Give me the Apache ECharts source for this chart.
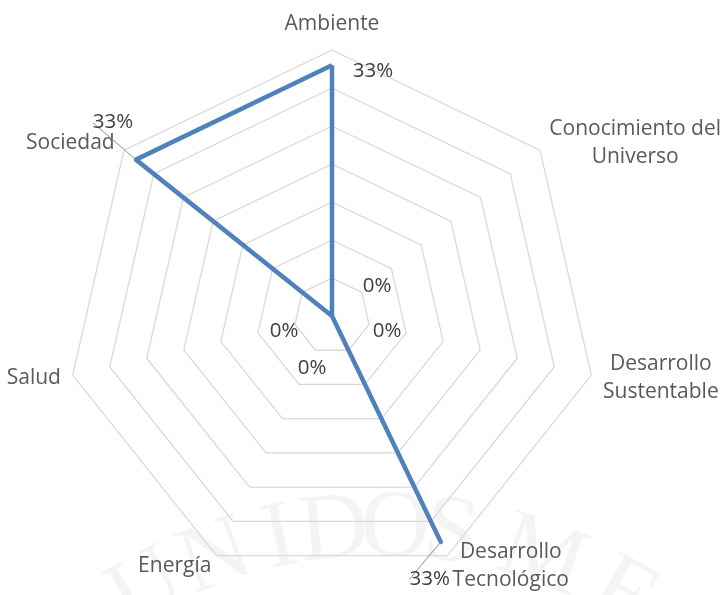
<!DOCTYPE html>
<html>
<head>
<meta charset="utf-8">
<script src="https://cdn.jsdelivr.net/npm/echarts@6/dist/echarts.min.js"></script>
<style>
    html, body {margin: 0; padding: 0; background: #fff;}
    #chart {width: 724px; height: 595px;}
</style>
</head>
<body>
<div id="chart"></div>
<script>
// echarts puts radar indicators counterclockwise from the top,
// so this is the excel (clockwise) order reversed after the first one
const indicators = ['Ambiente', 'Sociedad', 'Salud', 'Energía', 'Desarrollo\nTecnológico', 'Desarrollo\nSustentable', 'Conocimiento del\nUniverso'];
const values = [33, 33, 0, 0, 33, 0, 0];
const maxValue = 35;
const splitCount = 7;

// data labels were dragged around by hand in excel, offset from the point in px
const labelShift = [[41, 6], [-23, -37], [-48, 15], [-20, 52], [-11, 37], [55, 15], [45, -30]];
const leaderLine = [false, true, false, false, true, false, false];

const textColor = '#595959';
const font = 'Open Sans';

let chart = echarts.init(document.getElementById('chart'));

// one invisible series per vertex, only so every label can sit in its own place
let labelSeries = values.map((v, k) => ({
    type: 'radar',
    z: 3,
    silent: true,
    symbol: 'circle',
    symbolSize: 0,
    itemStyle: {color: 'transparent'},
    lineStyle: {width: 0, opacity: 0},
    data: [{value: values.map((val, i) => i === k ? val : '-')}],
    label: {
        show: true,
        position: 'inside',
        color: '#404040',
        fontSize: 20.5,
        fontFamily: font,
        formatter: p => (typeof p.value === 'number' && !isNaN(p.value)) ? p.value + '%' : ''
    },
    // empty labels of the other vertices stay put, so they get no leader line
    labelLayout: p => p.text ? {dx: labelShift[k][0], dy: labelShift[k][1]} : {},
    labelLine: {show: leaderLine[k], lineStyle: {color: '#8c8c8c', width: 1}}
}));

// faint seal watermark behind the chart
let mark = ['U', 'N', 'I', 'D', 'O', 'S', 'M', 'E'];
let markAngle = [-29, -20, -12, -5.5, 1.8, 8.5, 19.7, 30.4];
let watermark = mark.map((ch, i) => {
    let a = markAngle[i] * Math.PI / 180;
    return {
        type: 'text',
        z: -10,
        silent: true,
        x: 380 + 480 * Math.sin(a),
        y: 1010 - 480 * Math.cos(a),
        rotation: -a,
        style: {
            text: ch,
            fill: 'rgba(0,0,0,0.045)',
            font: '96px "Liberation Serif"',
            align: 'center',
            verticalAlign: 'middle'
        }
    };
});

chart.setOption({
    animation: false,
    graphic: watermark,
    radar: {
        center: [332, 316],
        radius: 266,
        startAngle: 90,
        splitNumber: splitCount,
        shape: 'polygon',
        nameGap: 12,
        indicator: indicators.map(n => ({name: n, min: 0, max: maxValue})),
        axisName: {
            color: textColor,
            fontSize: 21,
            fontFamily: font,
            formatter: name => name.split('\n').map(s => '{c|' + s + '}').join('\n'),
            rich: {
                c: {align: 'center', color: textColor, fontSize: 21, fontFamily: font, lineHeight: 28}
            }
        },
        splitLine: {lineStyle: {color: '#d9d9d9', width: 1.3}},
        splitArea: {show: false},
        axisLine: {show: false},
        axisTick: {show: false},
        axisLabel: {show: false}
    },
    series: [
        {
            type: 'radar',
            z: 2,
            symbol: 'none',
            lineStyle: {color: '#4f81bd', width: 4.5},
            data: [{value: values}]
        }
    ].concat(labelSeries)
});
</script>
</body>
</html>
